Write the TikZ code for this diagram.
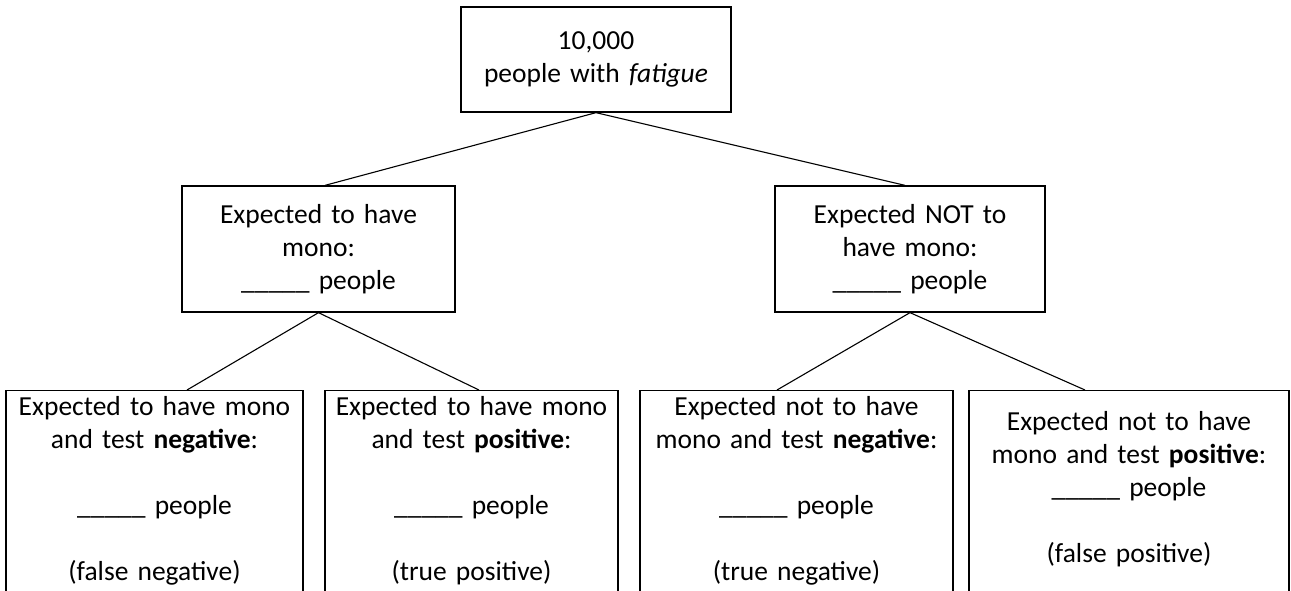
\documentclass[tikz,border=0pt]{standalone}
\usepackage{fontspec}
\setmainfont{Carlito}
\usetikzlibrary{positioning, calc}

\newcommand{\blank}{\_\_\_\_\_}
\newcommand{\headroom}[1]{\rule{0pt}{#1}}
\newcommand{\tailroom}{\rule[-40pt]{0pt}{40pt}}

\begin{document}
\begin{tikzpicture}[x=1pt, y=-1pt,
		box/.style={draw, line width=1.3pt, align=center, inner xsep=0pt, font={\fontsize{27.5}{33}\selectfont}},
		leaf/.style={box, anchor=north, inner ysep=0pt},
		branch/.style={line width=1.1pt}]
		\useasboundingbox (0,0) rectangle (1291,590);
		\clip (0,0) rectangle (1291,590);
		% root and the two expected groups
		\node[box, text width=270pt, minimum height=105pt] (all) at (596,59.5) {10,000\\people with \textit{fatigue}};
		\node[box, text width=273pt, minimum height=126pt] (mono) at (318.5,249) {Expected to have\\mono:\\\blank{} people};
		\node[box, text width=270pt, minimum height=126pt] (nomono) at (910,249) {Expected NOT to\\have mono:\\\blank{} people};
		% test outcomes
		\node[leaf, text width=297pt] (falseneg) at (154.5,390) {\headroom{25pt}Expected to have mono\\and test \textbf{negative}:\\[33pt]\blank{} people\\[33pt](false negative)\tailroom};
		\node[leaf, text width=293pt] (truepos) at (471.5,390) {\headroom{25pt}Expected to have mono\\and test \textbf{positive}:\\[33pt]\blank{} people\\[33pt](true positive)\tailroom};
		\node[leaf, text width=313pt] (trueneg) at (796.5,390) {\headroom{25pt}Expected not to have\\mono and test \textbf{negative}:\\[33pt]\blank{} people\\[33pt](true negative)\tailroom};
		\node[leaf, text width=320pt] (falsepos) at (1129,390) {\headroom{40pt}Expected not to have\\mono and test \textbf{positive}:\\\blank{} people\\[33pt](false positive)\tailroom};
		\draw[branch] (all.south) -- ([xshift=6.5pt]mono.north);
		\draw[branch] (all.south) -- ([xshift=-5pt]nomono.north);
		\draw[branch] (mono.south) -- ([xshift=32.5pt]falseneg.north);
		\draw[branch] (mono.south) -- ([xshift=7.5pt]truepos.north);
		\draw[branch] (nomono.south) -- ([xshift=-19.5pt]trueneg.north);
		\draw[branch] (nomono.south) -- ([xshift=-44pt]falsepos.north);
	\end{tikzpicture}
\end{document}
